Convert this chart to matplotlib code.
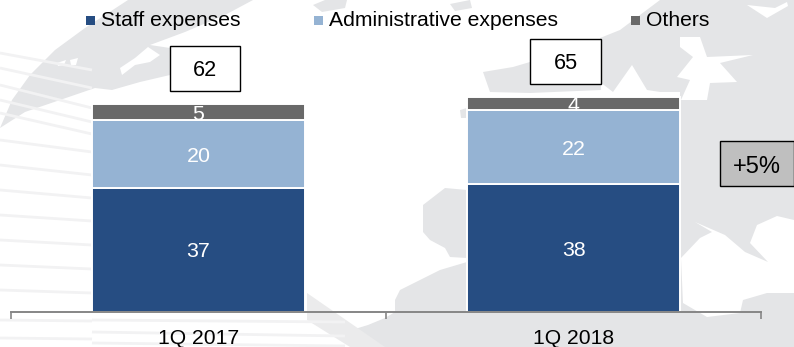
import matplotlib
matplotlib.use("Agg")
import matplotlib.pyplot as plt
from matplotlib.patches import Polygon, Rectangle

plt.rcParams['font.family'] = ['Liberation Sans', 'DejaVu Sans']

# Expense breakdown by quarter
categories = ["1Q 2017", "1Q 2018"]
staff = [37, 38]
administrative = [20, 22]
others = [5, 4]
totals = [62, 65]
change_label = "+5%"

series_names = ["Staff expenses", "Administrative expenses", "Others"]
series_colors = ["#264D82", "#95B3D3", "#696969"]

W, H = 794, 347
fig = plt.figure(figsize=(W / 100, H / 100), dpi=100, facecolor="white")

# Decorative map backdrop, in pixel coordinates
bg = fig.add_axes([0, 0, 1, 1], zorder=0)
bg.set_xlim(0, W)
bg.set_ylim(H, 0)
bg.axis("off")
MAP = "#E4E5E7"
STRIPE = "#F2F2F3"

# Faint meridian stripes on the left
for y0, y1 in [(53, 70), (68, 88), (85, 108), (100, 122), (113, 134), (140, 152), (165, 175),
               (190, 198), (215, 221), (240, 245), (265, 269), (290, 293), (320, 321), (338, 339)]:
    bg.plot([0, 92], [y0, y1], color=STRIPE, lw=2.0, solid_capstyle="butt")
for y0, y1 in [(320, 322), (332, 336), (343, 346)]:
    bg.plot([92, 345], [y0, y1], color=STRIPE, lw=2.0, solid_capstyle="butt")

land = [
    # globe edge and northern coast, upper left
    [(128, 0), (253, 0), (225, 15), (185, 32), (150, 45), (170, 48), (170, 75), (140, 82), (112, 90),
     (95, 88), (60, 100), (25, 112), (0, 128), (12, 100), (30, 75), (55, 50), (85, 28), (105, 15)],
    # small islands along the top edge
    [(313, 5), (325, 0), (347, 0), (345, 8), (322, 12)],
    [(450, 4), (470, 0), (472, 8), (455, 11)],
    # Scandinavia and the eastern mainland
    [(660, 0), (794, 0), (794, 347), (375, 347), (345, 332), (368, 325), (385, 318), (395, 312),
     (395, 300), (400, 290), (440, 270), (467, 262), (680, 262), (680, 92), (613, 92), (600, 82),
     (600, 38), (620, 30)],
    # British Isles
    [(483, 72), (513, 67), (530, 62), (601, 62), (601, 90), (530, 93), (490, 92)],
    # Iberia
    [(445, 188), (467, 190), (467, 258), (450, 257), (445, 248), (430, 240), (423, 232), (423, 205)],
    # small spit beside the left column
    [(460, 110), (467, 108), (467, 118), (461, 118)],
]
for pts in land:
    bg.add_patch(Polygon(pts, closed=True, fc=MAP, ec="none"))
bg.add_patch(Polygon([(307, 293), (385, 347), (350, 347), (307, 320)], closed=True, fc="#EBEBEC", ec="none"))

water = [
    # Baltic inlets
    [(680, 37), (700, 37), (707, 57), (753, 55), (720, 63), (737, 82), (710, 83), (707, 100), (681, 100),
     (690, 80), (677, 77), (693, 57), (680, 47)],
    # North Sea gap
    [(613, 92), (632, 65), (647, 90), (680, 95), (613, 95)],
    # Arctic streak
    [(747, 5), (775, 8), (787, 2), (788, 6), (767, 18)],
    # Mediterranean
    [(695, 222), (725, 235), (745, 252), (768, 262), (750, 243), (757, 225), (777, 216), (794, 220),
     (794, 293), (767, 293), (743, 300), (740, 313), (707, 317), (683, 303), (681, 258), (700, 238),
     (712, 232)],
    # Lakes in the upper left land
    [(57, 63), (66, 60), (64, 65), (58, 66)],
    [(70, 60), (78, 58), (76, 65), (71, 65)],
    [(148, 47), (160, 55), (150, 62), (135, 65), (122, 75), (120, 68), (135, 58)],
]
for pts in water:
    bg.add_patch(Polygon(pts, closed=True, fc="white", ec="none"))

# Stacked bars sharing a baseline
SCALE = 3.36
ax = fig.add_axes([11 / W, 1 - 312 / H, 750 / W, 312 / H], zorder=1)
ax.patch.set_alpha(0)
ax.set_xlim(-0.5, 1.5)
ax.set_ylim(0, 312 / SCALE)
positions = range(len(categories))
bottom = [0, 0]
for values, name, color in zip([staff, administrative, others], series_names, series_colors):
    ax.bar(positions, values, width=0.568, bottom=bottom, color=color, ec="white", lw=1.4, label=name)
    for i, v in enumerate(values):
        ax.text(i, bottom[i] + v / 2 - 0.6, str(v), color="white", fontsize=15.4,
                ha="center", va="center", clip_on=False)
    bottom = [b + v for b, v in zip(bottom, values)]

# Category axis with separator ticks
for side in ("top", "left", "right"):
    ax.spines[side].set_visible(False)
ax.spines["bottom"].set_color("#868686")
ax.spines["bottom"].set_linewidth(1.4)
ax.set_yticks([])
ax.set_xticks([-0.5, 0.5, 1.5])
ax.set_xticklabels([])
ax.tick_params(axis="x", length=5, width=1.2, color="#868686")
for i, c in enumerate(categories):
    ax.annotate(c, (i, 0), xytext=(0, -26), xycoords="data", textcoords="offset pixels",
                ha="center", va="center", fontsize=15.2, color="black", annotation_clip=False)

front = fig.add_axes([0, 0, 1, 1], zorder=2)
front.set_xlim(0, W)
front.set_ylim(H, 0)
front.axis("off")


# Total and growth boxes, positioned in pixels
def pixel_box(x0, y0, x1, y1, text, fc, tx, ty, size):
    front.add_patch(Rectangle((x0, y0), x1 - x0, y1 - y0, fc=fc, ec="black", lw=1.0, zorder=3))
    front.text(tx, ty, text, ha="center", va="center", fontsize=size, color="black", zorder=4)


pixel_box(170, 46, 240, 91, str(totals[0]), "white", 205, 70, 15.6)
pixel_box(530, 39, 601, 84, str(totals[1]), "white", 565.5, 63, 15.6)
pixel_box(720, 141, 794, 186, change_label, "#BFBFBF", 757, 167, 17)

# Legend entries
legend_x = [86, 314, 631]
for x, name, color in zip(legend_x, series_names, series_colors):
    front.add_patch(Rectangle((x, 16), 9, 9, fc=color, ec="none"))
    front.text(x + 15, 20, name, ha="left", va="center", fontsize=15.2, color="black")

fig.savefig("out.png", dpi=100)
